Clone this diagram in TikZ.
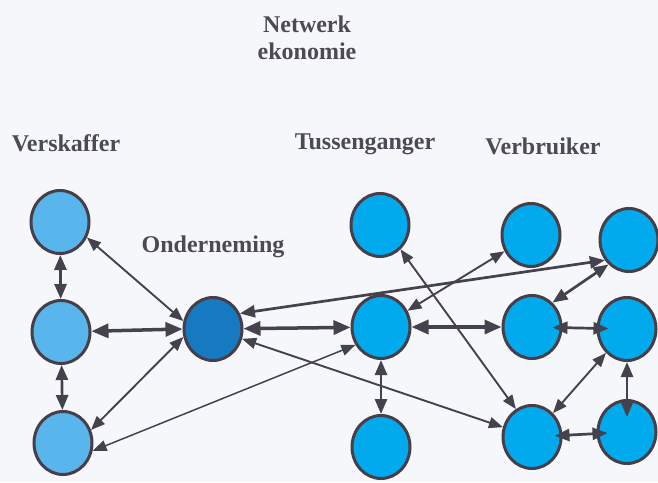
\documentclass[tikz,border=0pt]{standalone}
\usepackage{fontspec}
\setmainfont{Liberation Serif}
\usetikzlibrary{arrows.meta,shapes.geometric}
\definecolor{paperc}{RGB}{246,247,250}
\definecolor{rimc}{RGB}{72,62,72}
\definecolor{linkc}{RGB}{68,66,76}
\definecolor{textc}{RGB}{76,74,84}
\definecolor{supc}{RGB}{88,182,236}
\definecolor{firmc}{RGB}{22,122,192}
\definecolor{agentc}{RGB}{0,170,236}

\begin{document}
\begin{tikzpicture}[x=1pt, y=-1pt,
  party/.style={ellipse, draw=rimc, line width=3pt, fill=agentc,
                minimum width=58pt, minimum height=63pt, inner sep=0pt},
  title/.style={textc, font=\bfseries\fontsize{24}{27}\selectfont, align=center},
  link/.style={{Triangle[length=14pt,width=11pt]}-{Triangle[length=14pt,width=11pt]},
               linkc, line width=1.9pt},
  midlink/.style={{Triangle[length=15pt,width=12pt]}-{Triangle[length=15pt,width=12pt]},
                  linkc, line width=2.7pt},
  heavy/.style={{Triangle[length=17pt,width=14pt]}-{Triangle[length=17pt,width=14pt]},
                linkc, line width=3.5pt}]

  % page
  \fill[paperc] (0,0) rectangle (658,482);
  \useasboundingbox (0,0) rectangle (658,482);

  % headings
  \node[title] (net)  at (307,38)  {Netwerk\\ekonomie};
  \node[title] (lsup) at (66,143)  {Verskaffer};
  \node[title] (lmid) at (365,144) {Tussenganger};
  \node[title] (lend) at (543,146) {Verbruiker};
  \node[title] (lfrm) at (213,247) {Onderneming};

  % suppliers
  \node[party, fill=supc] (v1) at (60,222) {};
  \node[party, fill=supc] (v2) at (61,332) {};
  \node[party, fill=supc] (v3) at (63,443) {};

  % the firm
  \node[party, fill=firmc] (firm) at (213,329) {};

  % intermediaries
  \node[party] (t1) at (380,225) {};
  \node[party] (t2) at (381,327) {};
  \node[party] (t3) at (381,447) {};

  % consumers
  \node[party] (c1) at (531,235) {};
  \node[party] (c2) at (629,240) {};
  \node[party] (c3) at (532,327) {};
  \node[party] (c4) at (627,329) {};
  \node[party] (c5) at (532,437) {};
  \node[party] (c6) at (627,432) {};

  % supplier side
  \draw[midlink] (v1) -- (v2);
  \draw[midlink] (v2) -- (v3);
  \draw[link] (v1.-30) -- (firm.165);
  \draw[heavy] (v2) -- (firm.west);
  \draw[link] (v3.25) -- (firm.195);
  \draw[link, line width=1.5pt] (v3.-15) -- (t2.215);

  % firm to the market
  \draw[heavy] (firm) -- (t2);
  \draw[midlink] (firm.30) -- (c2.220);
  \draw[link] (firm) -- (c5);

  % intermediaries to consumers
  \draw[link] (t1.-50) -- (c5.120);
  \draw[link] (t2) -- (c1);
  \draw[heavy] (t2) -- (c3);
  \draw[midlink] (t2) -- (t3);

  % consumers among themselves
  \draw[midlink] (c2.230) -- (c3.50);
  \draw[midlink, shorten <=-10pt, shorten >=-12pt] (c3) -- (c4);
  \draw[link] (c4) -- (c5);
  \draw[midlink, shorten >=-18pt] (c4) -- (c6);
  \draw[midlink, shorten <=-8pt, shorten >=-11pt] (c5) -- (c6);

\end{tikzpicture}
\end{document}
